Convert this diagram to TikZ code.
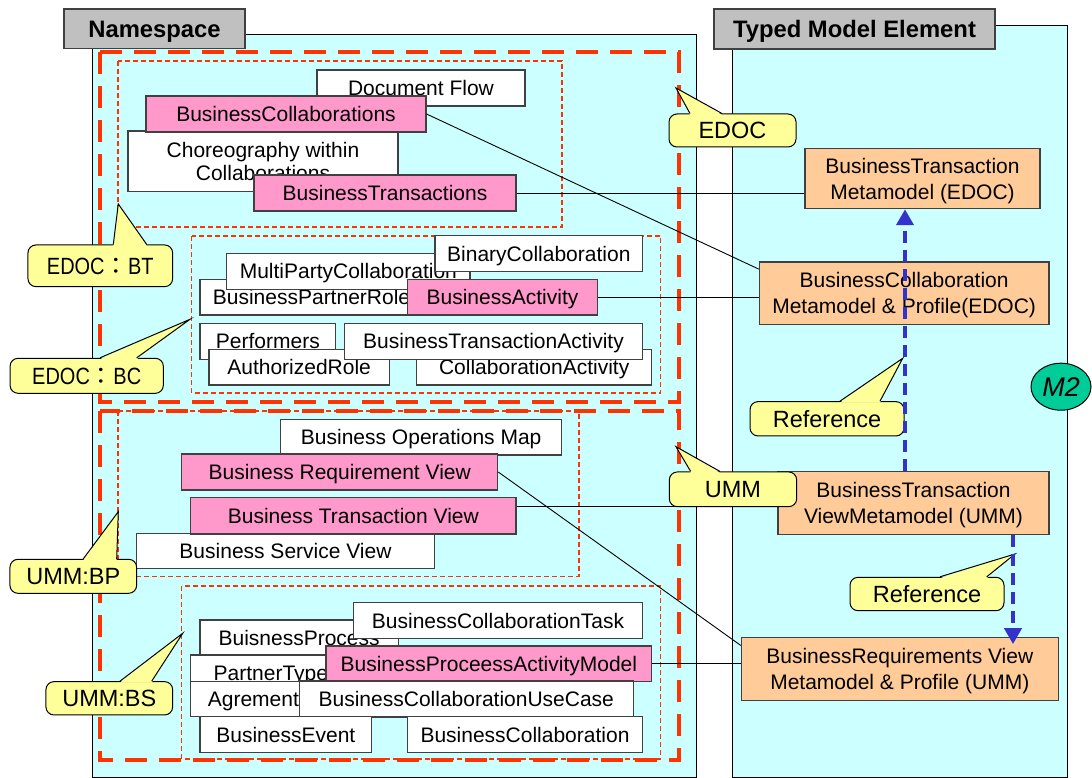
\documentclass[tikz,border=0pt]{standalone}
\usepackage{fontspec}
\setmainfont{Liberation Sans}
\newfontfamily\narrowsans[FakeStretch=0.85]{Liberation Sans}
\newfontfamily\cjkfont{Noto Sans CJK JP}
\usetikzlibrary{calc,arrows.meta,shapes.geometric}

\definecolor{panelfill}{HTML}{CCFFFF}
\definecolor{hdrfill}{HTML}{C0C0C0}
\definecolor{pinkfill}{HTML}{FF99CC}
\definecolor{orangefill}{HTML}{FFCC99}
\definecolor{callfill}{HTML}{FFFF99}
\definecolor{redline}{HTML}{FF3300}
\definecolor{blueline}{HTML}{3333CC}
\definecolor{mfill}{HTML}{00CC99}
\definecolor{boxline}{HTML}{404040}

\tikzset{
  panel/.style={draw=black, line width=1pt, fill=panelfill, inner sep=0pt},
  header/.style={draw=boxline, line width=1.2pt, fill=hdrfill, inner sep=0pt,
    font=\fontsize{23.8}{28}\selectfont\bfseries, text height=17pt, text depth=0pt},
  box/.style={draw=boxline, line width=1.1pt, fill=white, inner sep=0pt,
    font=\fontsize{21}{26}\selectfont, text height=15pt, text depth=0pt},
  pinkbox/.style={box, fill=pinkfill},
  twoline/.style={draw=boxline, line width=1.1pt, fill=white, inner sep=0pt,
    align=center, font=\fontsize{21}{26}\selectfont},
  metabox/.style={twoline, fill=orangefill},
  bigdash/.style={draw=redline, line width=4pt, dash pattern=on 22pt off 12pt},
  smalldash/.style={draw=redline, line width=1.2pt, dash pattern=on 5pt off 3pt},
  conn/.style={draw=black, line width=0.9pt},
  refarrow/.style={draw=blueline, line width=4pt, dash pattern=on 12pt off 7pt,
    -{Triangle[width=17pt,length=16pt]}},
  callbody/.style={draw=black, line width=1pt, fill=callfill, rounded corners=8pt,
    inner sep=0pt, font=\fontsize{23.5}{28}\selectfont, text height=16.8pt, text depth=0pt},
  narrowcall/.style={callbody, font=\fontsize{23.5}{28}\narrowsans},
  callside/.style={draw=black, line width=1pt},
  modellevel/.style={ellipse, draw=black, line width=1pt, fill=mfill, inner sep=0pt,
    font=\fontsize{27}{30}\selectfont\itshape},
}

% box from its corners: name, style, x1, y1, x2, y2, text
\newcommand\placebox[7]{%
  \node[#2, minimum width={#5-#3}, minimum height={#6-#4}] (#1)
    at ({(#3+#5)/2},{(#4+#6)/2}) {#7};}
% second line of a two-line label without depth
\newcommand\nodepth[1]{\raisebox{0pt}[\height][0pt]{#1}}
% full-width colon
\newcommand\widecolon{{\cjkfont ：}}
% wedge of a callout on the top side of its body
\newcommand\wedgeup[4]{%
  \fill[callfill] ($(#2,0 |- #1.north)+(0,1.4)$) -- (#4) -- ($(#3,0 |- #1.north)+(0,1.4)$) -- cycle;
  \draw[callside] (#2,0 |- #1.north) -- (#4) -- (#3,0 |- #1.north);}

\begin{document}
\begin{tikzpicture}[x=1pt,y=-1pt]
\useasboundingbox (0,0) rectangle (1092,778);

% panels and their headers
\node[panel, minimum width=604, minimum height=742] (nspanel) at (394,406) {};
\node[panel, minimum width=335, minimum height=751] (tmpanel) at (899.5,401.5) {};
\placebox{nshdr}{header}{64}{9}{245}{48.7}{Namespace}
\placebox{tmhdr}{header}{714}{9}{995}{49}{Typed Model Element}

% EDOC and UMM groupings
\draw[bigdash] (100,52) rectangle (679,402);
\draw[bigdash] (100,411) rectangle (679,760);
\draw[smalldash] (118,61) rectangle (562,227);
\draw[smalldash] (191.7,236) rectangle (660.7,393);
\draw[smalldash] (118,411) rectangle (579,576.7);
\draw[smalldash] (181.7,586) rectangle (660.7,759);

% EDOC:BT
\placebox{docflow}{box}{317}{70}{525}{106}{Document Flow}
\placebox{choreo}{twoline, font=\fontsize{21}{22.5}\selectfont}{128}{131}{398}{191.7}{Choreography within\\Collaborations}
\placebox{bcollabs}{pinkbox}{146}{96}{426}{132}{BusinessCollaborations}
\placebox{btrans}{pinkbox}{254}{175}{516}{211}{BusinessTransactions}

% EDOC:BC
\placebox{bprole}{box}{200}{279.3}{423}{315}{BusinessPartnerRole}
\placebox{multi}{box}{226.7}{253.3}{470}{289.3}{MultiPartyCollaboration}
\placebox{binary}{box}{435}{235.7}{642.7}{271.7}{BinaryCollaboration}
\placebox{bactivity}{pinkbox}{407.7}{279.3}{597.3}{315}{BusinessActivity}
\placebox{performers}{box}{200}{323.3}{335.7}{359.3}{Performers}
\placebox{authrole}{box}{209}{349.3}{389.3}{385}{AuthorizedRole}
\placebox{collabact}{box}{416.7}{349.3}{651.7}{385}{CollaborationActivity}
\placebox{btact}{box}{344.3}{323.3}{642.7}{359.3}{BusinessTransactionActivity}

% UMM:BP
\placebox{bom}{box}{280.7}{419.3}{561.7}{455}{Business Operations Map}
\placebox{brv}{pinkbox}{181.7}{454}{497.7}{490}{Business Requirement View}
\placebox{bsv}{box}{136.7}{533.3}{434.3}{568.3}{Business Service View}
\placebox{btv}{pinkbox}{190.7}{497.7}{516}{534}{Business Transaction View}

% UMM:BS
\placebox{bproc}{box}{200}{620}{398.3}{656}{BuisnessProcess}
\placebox{bctask}{box}{353.3}{602.7}{642.7}{638.3}{BusinessCollaborationTask}
\placebox{ptype}{box}{190.7}{655}{351}{691}{PartnerType}
\placebox{bpam}{pinkbox}{326}{646}{651.7}{681.7}{BusinessProceessActivityModel}
\placebox{agree}{box}{190.7}{681.7}{316}{716.7}{Agrement}
\placebox{bcuc}{box}{299.3}{681}{633.3}{717}{BusinessCollaborationUseCase}
\placebox{bevent}{box}{200}{716.7}{371.7}{752.3}{BusinessEvent}
\placebox{bcollab}{box}{407.3}{716.7}{642.7}{752.3}{BusinessCollaboration}

% typed model elements
\placebox{btm}{metabox}{805}{148.7}{1040}{208.7}{BusinessTransaction\\\nodepth{Metamodel (EDOC)}}
\placebox{bcm}{metabox}{759.3}{262}{1049}{324.7}{BusinessCollaboration\\\nodepth{Metamodel \& Profile(EDOC)}}
\placebox{btvm}{metabox}{778}{471.7}{1049}{534.7}{BusinessTransaction\\\nodepth{ViewMetamodel (UMM)}}
\placebox{brvm}{metabox}{741.3}{637.7}{1058.3}{700.3}{BusinessRequirements View\\\nodepth{Metamodel \& Profile (UMM)}}

% typing links
\draw[conn] (bcollabs.east) -- ($(bcm.north west)!0.12!(bcm.south west)$);
\draw[conn] (btrans.east) -- (btrans.east -| btm.west);
\draw[conn] (bactivity.east) -- (bactivity.east -| bcm.west);
\draw[conn] (brv.east) -- ($(brvm.north west)!0.13!(brvm.south west)$);
\coordinate (btvout) at ($(btv.north east)!0.25!(btv.south east)$);
\draw[conn] (btvout) -- (btvout -| btvm.west);
\draw[conn] (bpam.east) -- (bpam.east -| brvm.west);

% callouts
\node[callbody, minimum width=127, minimum height=33] (cedoc) at (732.5,130.5) {EDOC};
\coordinate (cedoc-tip) at (676,88);
\wedgeup{cedoc}{690}{722}{cedoc-tip}

\node[narrowcall, minimum width=144.7, minimum height=41.7] (cbt) at (100.3,265.8) {EDOC\widecolon BT};
\coordinate (cbt-tip) at (118.3,204);
\wedgeup{cbt}{113.3}{146.7}{cbt-tip}

\node[narrowcall, minimum width=153.3, minimum height=35] (cbc) at (86.7,375.8) {EDOC\widecolon BC};
\coordinate (cbc-tip) at (190,319.3);
\wedgeup{cbc}{100}{136.7}{cbc-tip}

\node[callbody, minimum width=126.7, minimum height=34] (cbp) at (73.3,576.3) {UMM:BP};
\coordinate (cbp-tip) at (118.3,511.7);
\wedgeup{cbp}{83.3}{116.7}{cbp-tip}

\node[callbody, minimum width=126.7, minimum height=33.3] (cbs) at (109.3,698.3) {UMM:BS};
\coordinate (cbs-tip) at (182.7,633.3);
\wedgeup{cbs}{120}{151.7}{cbs-tip}

\node[callbody, minimum width=127.4, minimum height=34.7] (cumm) at (733,489.3) {UMM};
\coordinate (cumm-tip) at (676,446.7);
\wedgeup{cumm}{690.7}{720}{cumm-tip}

\node[callbody, minimum width=154, minimum height=34.3] (cref1) at (827,418.8) {Reference};
\coordinate (cref1-tip) at (902.7,358.3);
\wedgeup{cref1}{840}{880}{cref1-tip}

\node[callbody, minimum width=154, minimum height=33.4] (cref2) at (927,594) {Reference};
\coordinate (cref2-tip) at (1015,554);
\wedgeup{cref2}{940}{986.7}{cref2-tip}

% reference links
\draw[refarrow] (905,0 |- btvm.north) -- (905,0 |- btm.south);
\draw[refarrow] (1013,0 |- btvm.south) -- ($(1013,0 |- brvm.north)+(0,7)$);

% metalevel
\node[modellevel, minimum width=60, minimum height=47] (mlevel) at (1061,386.7) {M2};
\end{tikzpicture}
\end{document}
